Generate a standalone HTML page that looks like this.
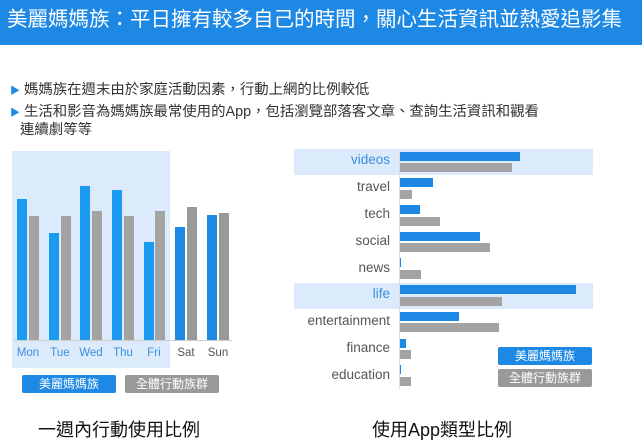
<!DOCTYPE html>
<html><head><meta charset="utf-8"><style>
body{margin:0;width:642px;height:440px;background:#fff;position:relative;overflow:hidden;font-family:"Liberation Sans","Noto Sans CJK TC",sans-serif}
.a{position:absolute}
.hd{left:0;top:0;width:642px;height:45px;background:#1e88e5;color:#fff;font-size:20.5px;line-height:40px;padding-left:7px;box-sizing:border-box;white-space:nowrap}
.t{font-size:14.4px;color:#333;white-space:nowrap}
.tri{color:#1e88e5;font-size:10px}
.b{position:absolute;background:#1e88e5}
.g{position:absolute;background:#a3a3a3}
.lbl{position:absolute;font-size:11.5px;text-align:center;width:32px}
.rl{position:absolute;right:252px;font-size:13.5px;color:#555;text-align:right}
.lg{position:absolute;color:#fff;font-size:12px;text-align:center;line-height:18px;border-radius:2px}
</style></head><body>
<div class="a hd">美麗媽媽族：平日擁有較多自己的時間，關心生活資訊並熱愛追影集</div>
<div class="a t" style="left:10px;top:78px"><span class="tri">▶</span> 媽媽族在週末由於家庭活動因素，行動上網的比例較低</div>
<div class="a t" style="left:10px;top:100px"><span class="tri">▶</span> 生活和影音為媽媽族最常使用的App，包括瀏覽部落客文章、查詢生活資訊和觀看</div>
<div class="a t" style="left:20px;top:118px">連續劇等等</div>

<div class="a" style="left:12px;top:151px;width:158px;height:217px;background:#dcebfb"></div>
<div class="a" style="left:14px;top:340px;width:218px;height:1px;background:#ccc"></div>
<div class="b" style="left:17px;top:199px;width:10px;height:141px;background:#1a9af0"></div><div class="g" style="left:29px;top:216px;width:10px;height:124px"></div>
<div class="b" style="left:49px;top:233px;width:10px;height:107px;background:#1a9af0"></div><div class="g" style="left:61px;top:216px;width:10px;height:124px"></div>
<div class="b" style="left:80px;top:186px;width:10px;height:154px;background:#1a9af0"></div><div class="g" style="left:92px;top:211px;width:10px;height:129px"></div>
<div class="b" style="left:112px;top:190px;width:10px;height:150px;background:#1a9af0"></div><div class="g" style="left:124px;top:216px;width:10px;height:124px"></div>
<div class="b" style="left:144px;top:242px;width:10px;height:98px;background:#1a9af0"></div><div class="g" style="left:155px;top:211px;width:10px;height:129px"></div>
<div class="b" style="left:175px;top:227px;width:10px;height:113px"></div><div class="g" style="left:187px;top:207px;width:10px;height:133px;background:#999"></div>
<div class="b" style="left:207px;top:215px;width:10px;height:125px"></div><div class="g" style="left:219px;top:213px;width:10px;height:127px;background:#999"></div>
<div class="lbl" style="left:12px;top:347px;color:#3a8fe0">Mon</div>
<div class="lbl" style="left:44px;top:347px;color:#3a8fe0">Tue</div>
<div class="lbl" style="left:75px;top:347px;color:#3a8fe0">Wed</div>
<div class="lbl" style="left:107px;top:347px;color:#3a8fe0">Thu</div>
<div class="lbl" style="left:138px;top:347px;color:#3a8fe0">Fri</div>
<div class="lbl" style="left:170px;top:347px;color:#555">Sat</div>
<div class="lbl" style="left:202px;top:347px;color:#555">Sun</div>
<div class="lg" style="left:22px;top:375px;width:94px;background:#1e88e5">美麗媽媽族</div>
<div class="lg" style="left:125px;top:375px;width:94px;background:#999">全體行動族群</div>

<div class="a" style="left:294px;top:149px;width:299px;height:26px;background:#dcebfb"></div>
<div class="a" style="left:294px;top:283px;width:299px;height:26px;background:#dcebfb"></div>
<div class="a" style="left:399px;top:149px;width:1px;height:240px;background:#ddd"></div>
<div class="rl" style="top:152px;color:#3a8fe0">videos</div>
<div class="rl" style="top:179px">travel</div>
<div class="rl" style="top:206px">tech</div>
<div class="rl" style="top:233px">social</div>
<div class="rl" style="top:260px">news</div>
<div class="rl" style="top:286px;color:#3a8fe0">life</div>
<div class="rl" style="top:313px">entertainment</div>
<div class="rl" style="top:340px">finance</div>
<div class="rl" style="top:367px">education</div>
<div class="b" style="left:400px;top:152px;height:9px;width:120px"></div><div class="g" style="left:400px;top:163px;height:9px;width:112px"></div>
<div class="b" style="left:400px;top:178px;height:9px;width:33px"></div><div class="g" style="left:400px;top:190px;height:9px;width:12px"></div>
<div class="b" style="left:400px;top:205px;height:9px;width:20px"></div><div class="g" style="left:400px;top:217px;height:9px;width:40px"></div>
<div class="b" style="left:400px;top:232px;height:9px;width:80px"></div><div class="g" style="left:400px;top:243px;height:9px;width:90px"></div>
<div class="b" style="left:400px;top:258px;height:9px;width:1px"></div><div class="g" style="left:400px;top:270px;height:9px;width:21px"></div>
<div class="b" style="left:400px;top:285px;height:9px;width:176px"></div><div class="g" style="left:400px;top:297px;height:9px;width:102px"></div>
<div class="b" style="left:400px;top:312px;height:9px;width:59px"></div><div class="g" style="left:400px;top:323px;height:9px;width:99px"></div>
<div class="b" style="left:400px;top:339px;height:9px;width:6px"></div><div class="g" style="left:400px;top:350px;height:9px;width:11px"></div>
<div class="b" style="left:400px;top:365px;height:9px;width:1px"></div><div class="g" style="left:400px;top:377px;height:9px;width:11px"></div>
<div class="lg" style="left:498px;top:347px;width:94px;background:#1e88e5">美麗媽媽族</div>
<div class="lg" style="left:498px;top:369px;width:94px;background:#999">全體行動族群</div>

<div class="a" style="left:38px;top:416px;font-size:18px;color:#111">一週內行動使用比例</div>
<div class="a" style="left:372px;top:416px;font-size:18px;color:#111">使用App類型比例</div>
</body></html>
